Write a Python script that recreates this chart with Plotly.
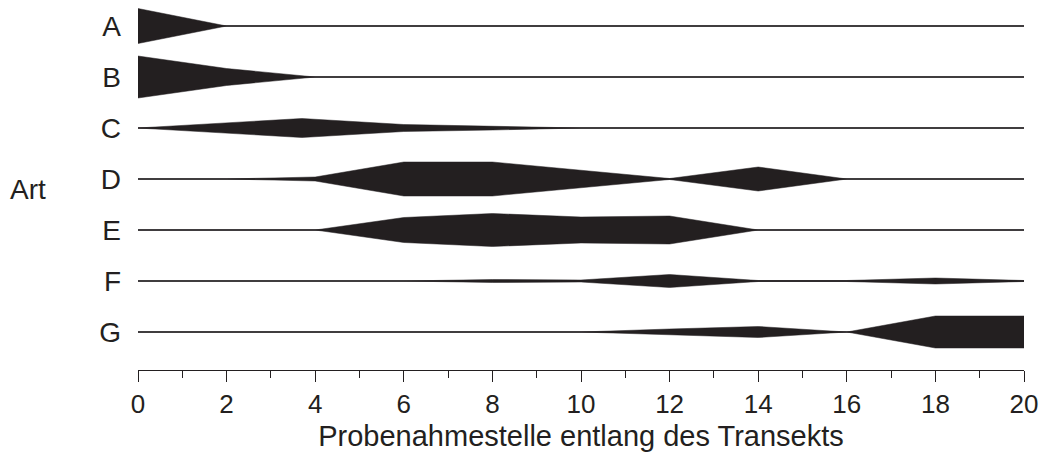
import plotly.graph_objects as go

# ---- data -------------------------------------------------------------
species = ["A", "B", "C", "D", "E", "F", "G"]

a_x = [0, 2, 20]
a_val = [35, 0, 0]

b_x = [0, 2, 4, 20]
b_val = [42, 17, 0, 0]

c_x = [0, 3.7, 6, 8, 10, 20]
c_val = [0, 19, 7, 4, 0, 0]

d_x = [0, 2, 4, 6, 8, 12, 14, 16, 20]
d_val = [0, 0, 4, 34, 34, 1, 24, 0, 0]

e_x = [0, 4, 6, 8, 10, 12, 14, 20]
e_val = [0, 0, 25, 33, 26, 28, 0, 0]

f_x = [0, 6, 8, 10, 12, 14, 16, 18, 20]
f_val = [0, 0, 3, 2, 13, 1, 1, 6, 1]

g_x = [0, 10, 12, 14, 16, 18, 20]
g_val = [0, 0, 6, 11, 0, 32, 32]

x_ticks = [0, 2, 4, 6, 8, 10, 12, 14, 16, 18, 20]
x_tick_labels = ["0", "2", "4", "6", "8", "10", "12", "14", "16", "18", "20"]

series = [
    (a_x, a_val), (b_x, b_val), (c_x, c_val), (d_x, d_val),
    (e_x, e_val), (f_x, f_val), (g_x, g_val),
]

# ---- styling ------------------------------------------------------------
INK = "#231f20"
FONT = "Liberation Sans, Arial, Helvetica, sans-serif"
KITE_SCALE = 1 / 102.0  # abundance -> half-width in row units

fig = go.Figure()

n = len(species)
for i, (name, (xs, vals)) in enumerate(zip(species, series)):
    center = n - 1 - i
    # baseline
    fig.add_trace(go.Scatter(
        x=[0, 20], y=[center, center], mode="lines",
        line=dict(color=INK, width=1.3), hoverinfo="skip", showlegend=False,
    ))
    upper = [center + v * KITE_SCALE for v in vals]
    lower = [center - v * KITE_SCALE for v in vals]
    fig.add_trace(go.Scatter(
        x=list(xs) + list(xs)[::-1],
        y=upper + lower[::-1],
        mode="lines", fill="toself", fillcolor=INK,
        line=dict(color=INK, width=0.5),
        name=name, showlegend=False,
    ))

fig.add_annotation(
    text="Art", xref="paper", yref="paper", x=0.0, xshift=-110, y=0.5,
    xanchor="center", yanchor="middle", showarrow=False,
    font=dict(size=28, color=INK, family=FONT),
)

fig.update_layout(
    width=1031, height=444,
    margin=dict(l=130, r=15, t=0, b=82, autoexpand=False),
    paper_bgcolor="white", plot_bgcolor="white",
    font=dict(family=FONT, size=26, color=INK),
    xaxis=dict(
        range=[0, 20], tickvals=x_ticks, ticktext=x_tick_labels,
        showgrid=False, zeroline=False, automargin=False,
        showline=True, linecolor=INK, linewidth=1.3,
        ticks="outside", ticklen=11, tickwidth=1.3, tickcolor=INK,
        minor=dict(dtick=1, ticks="outside", ticklen=7, tickwidth=1.3, tickcolor=INK),
        tickfont=dict(size=26), ticklabeloverflow="allow",
        title=dict(text="Probenahmestelle entlang des Transekts", font=dict(size=29), standoff=8),
    ),
    yaxis=dict(
        range=[-0.745, 6.353],
        tickvals=list(range(n - 1, -1, -1)), ticktext=species,
        showgrid=False, zeroline=False, showline=False, automargin=False,
        ticks="", ticklabelstandoff=16,
        tickfont=dict(size=28),
    ),
)

fig.write_html("out.html")
